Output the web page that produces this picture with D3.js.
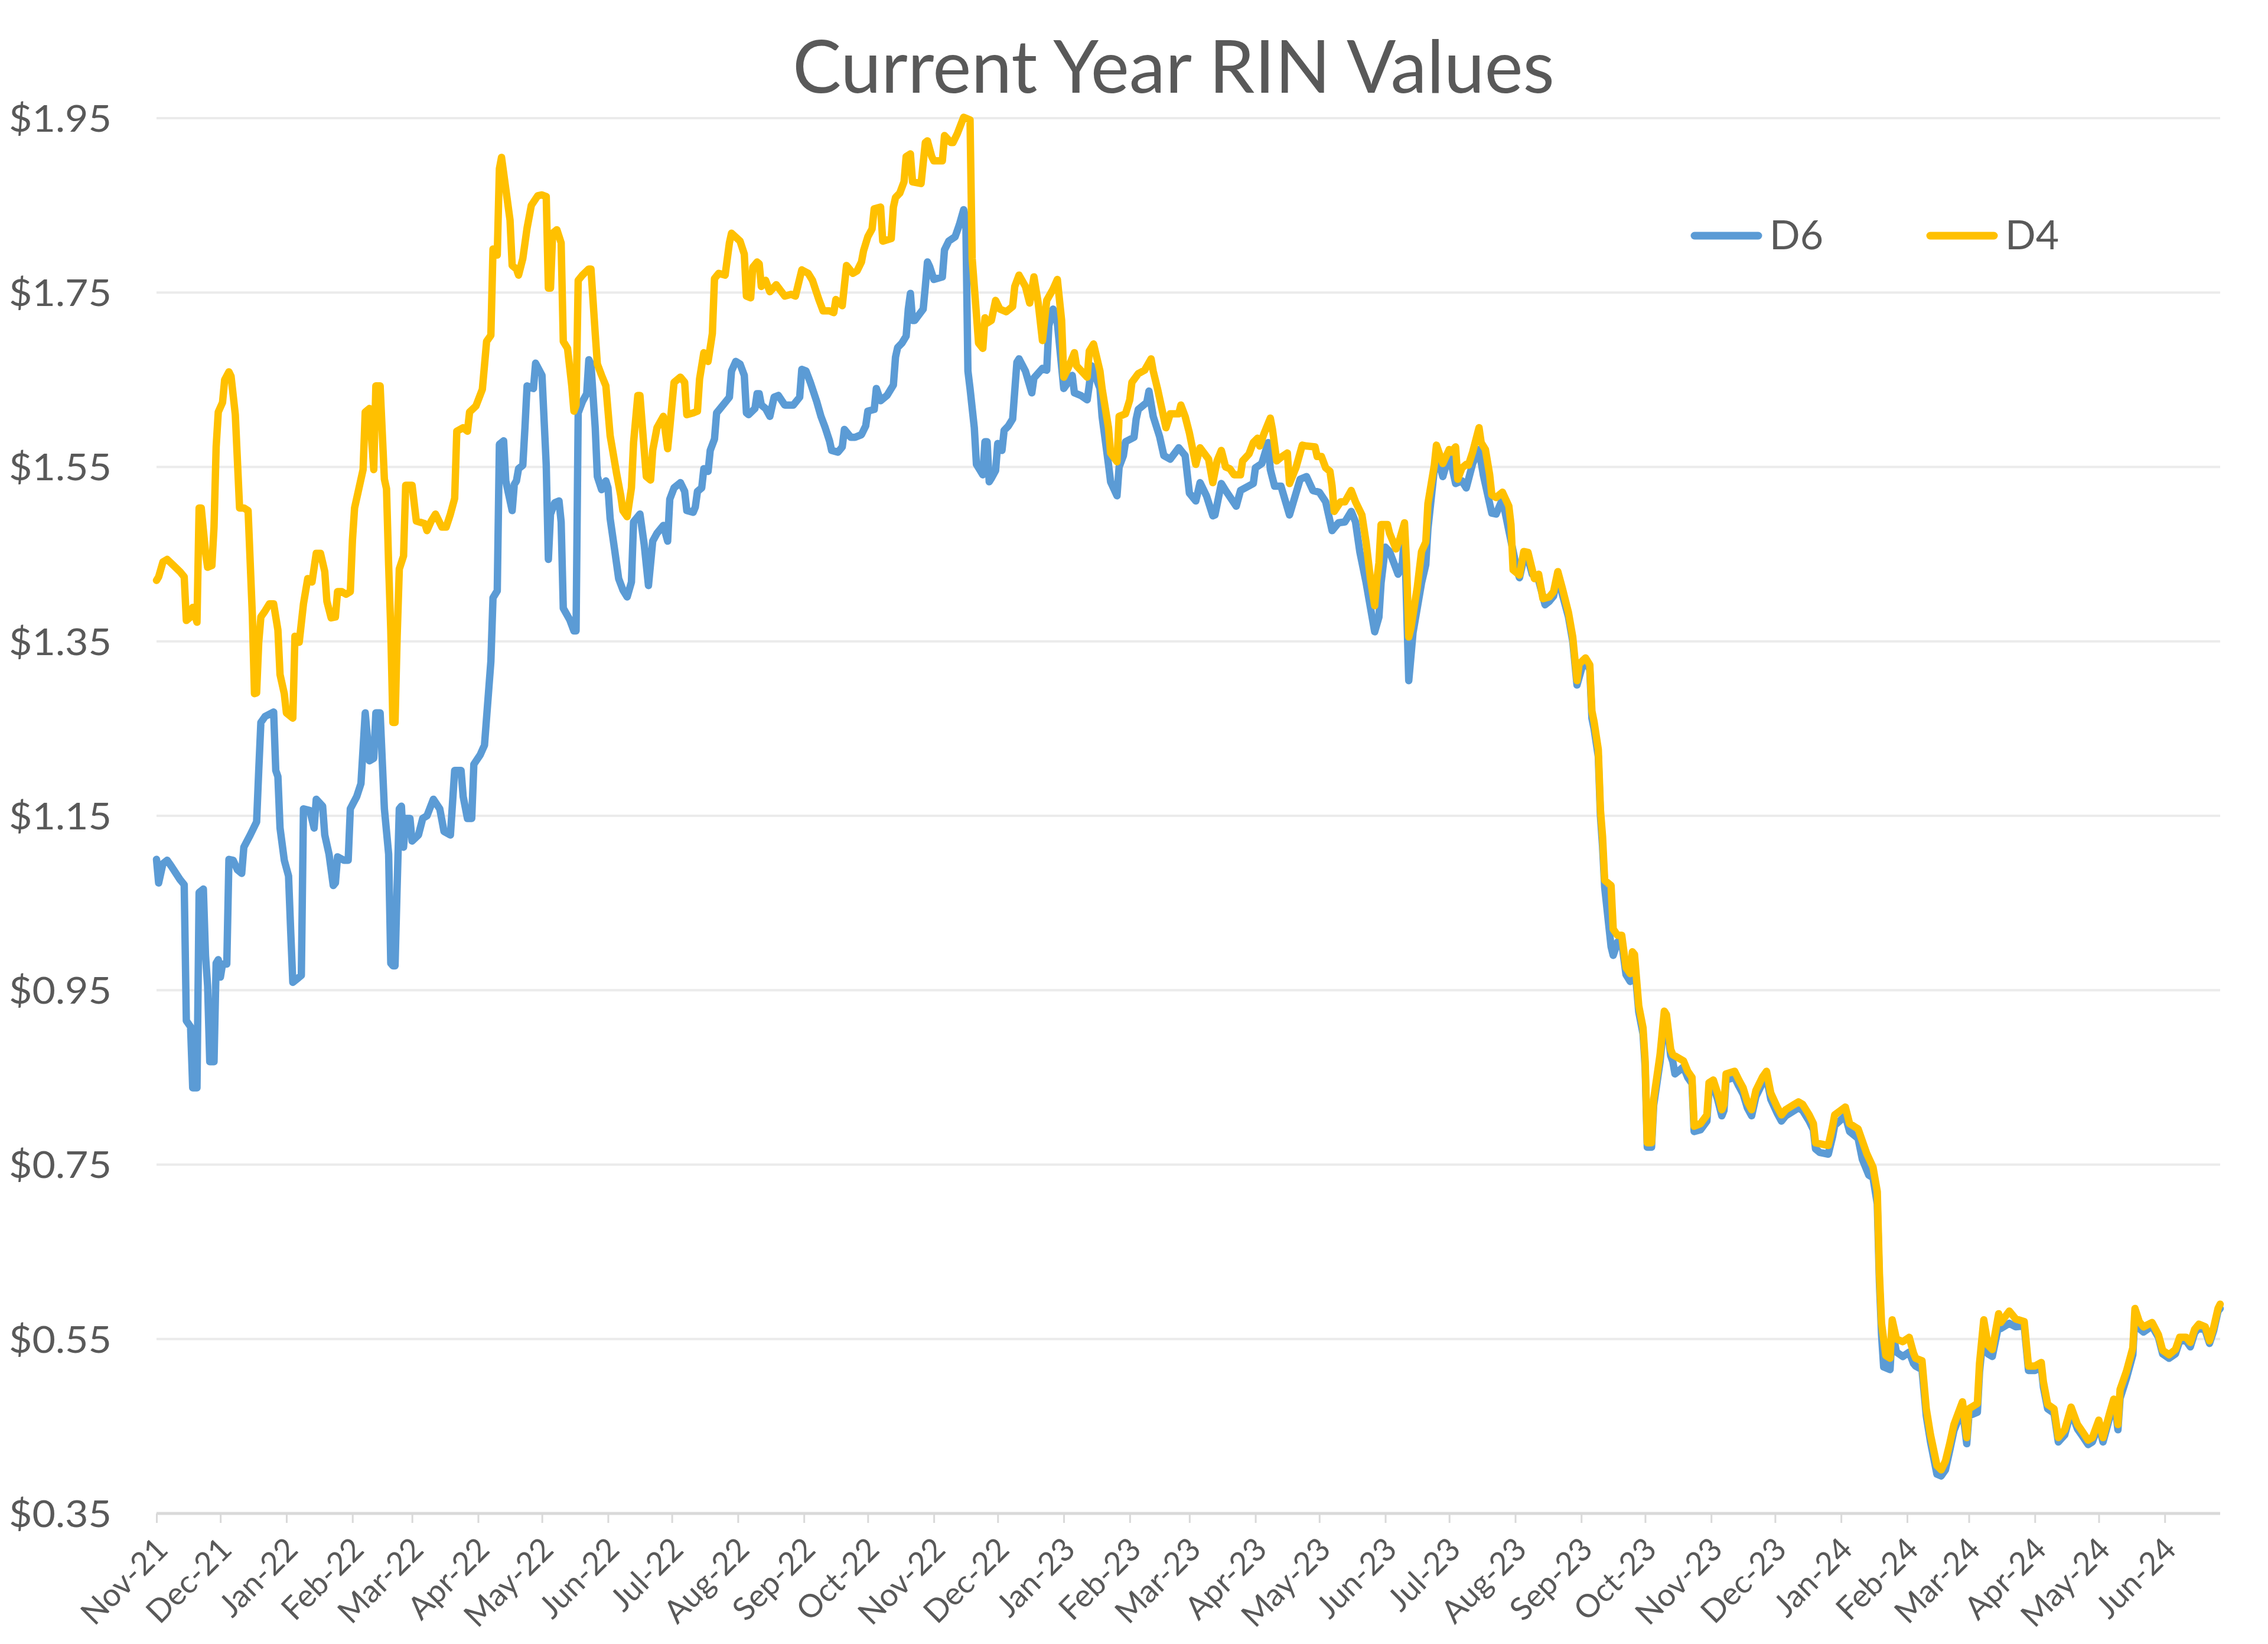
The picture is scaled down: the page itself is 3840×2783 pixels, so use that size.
<!DOCTYPE html>
<html><head><meta charset="utf-8">
<script src="https://cdn.jsdelivr.net/npm/d3@7"></script>
<style>html,body{margin:0;padding:0;background:#fff;} svg{display:block;}</style>
</head><body>
<svg id="chart" width="3840" height="2783"></svg>
<script>
// ---------------- DATA ----------------
const chartTitle = "Current Year RIN Values";
const startDate = "2021-11-01";           // day offsets below count from this date
const seriesNames = ["D6", "D4"];
const monthLabels = ["Nov-21","Dec-21","Jan-22","Feb-22","Mar-22","Apr-22","May-22","Jun-22","Jul-22","Aug-22","Sep-22","Oct-22","Nov-22","Dec-22","Jan-23","Feb-23","Mar-23","Apr-23","May-23","Jun-23","Jul-23","Aug-23","Sep-23","Oct-23","Nov-23","Dec-23","Jan-24","Feb-24","Mar-24","Apr-24","May-24","Jun-24"];
const yTicks = [0.35,0.55,0.75,0.95,1.15,1.35,1.55,1.75,1.95];
const lastDay = 969;

const d6Days = [
0,1,3,5,7,11,13,14,16,17, 19,20,22,23,24,25,27,28,29,30, 31,33,34,36,38,40,41,44,47,48, 49,51,55,56,57,58,60,62,63,64, 66,68,69,72,74,75,78,79,81,83, 84,85,88,90,91,94,96,98,100,102, 103,105,107,109,110,111,112,113,114,115, 116,117,119,120,123,125,127,130,133,135, 138,140,143,144,146,148,149,152,154,157, 158,160,161,163,
164,167,168,169,170,172,173,174,177,178, 181,183,184,185,187,189,190,191,194,196, 197,198,200,202,203,204,206,207,209,211, 212,213,215,217,219,221,223,224,227,229, 231,233,235,238,240,241,243,246,248,249, 252,253,254,256,257,259,260,262,263,266, 269,270,272,274,276,277,278,281,282,283, 284,286,288,290,292,295,299,302,303,305, 307,310,312,314,316,317,320,322,323,326, 328,
331,333,334,337,338,340,343,346,347,348, 350,352,353,354,355,356,360,361,362,363, 365,369,370,372,375,377,379,380,381,382, 384,385,388,389,390,391,392,394,395,397, 398,400,402,404,405,408,411,412,416,418, 419,421,423,426,428,430,431,434,437,438, 439,443,444,447,448,451,452,454,455,459, 460,461,465,466,468,471,473,476,480,483, 485,488,490,493,496,
497,500,502,507,509,515,516,519,522,523, 525,528,532,537,540,543,546,549,552,555, 558,561,563,565,568,572,574,575,577,579, 583,585,586,588,590,594,596,597,600,601, 604,607,610,613,615,618,621,623,627,629, 632,635,639,640,642,644,646,649,652,654, 656,658,660,663,665,667,670,671,673,674,
675,677,678,679,680,683,684,686,688,690, 692,693,694,696,698,699,700,702,703,706, 708,709,711,712,713,717,719,721,722,725, 728,729,731,733,735,736,737,741,743,745, 747,749,751,754,756,758,761,763,765,769, 771,773,776,778,779,781,785,787,788,793, 795,799,801,804,806,808,809,810,811,814, 815,817,
820,823,825,826,829,831,833,836,838,840, 842,844,848,850,851,855,856,858,860,862, 865,866,870,873,877,879,882,885,886,888, 891,893,896,899,902,904,907,909,912,914, 917,919,920,921,922,925,928,929,931,933, 937,940,942,945,948,950,953,955,957,959, 962,964,966,968,969];
const d6Values = [
1.100,1.073,1.095,1.099,1.092,1.077,1.071,0.915,0.908,0.838, 0.838,1.062,1.066,0.990,0.955,0.868,0.868,0.981,0.985,0.965, 0.980,0.980,1.100,1.099,1.088,1.084,1.114,1.128,1.143,1.202, 1.257,1.264,1.269,1.202,1.195,1.136,1.099,1.081,1.018,0.959, 0.963,0.967,1.158,1.156,1.136,1.169,1.161,1.128,1.106,1.070, 1.073,1.103,1.099,1.099,1.158,1.172,1.187,1.268,1.213,1.216, 1.268,1.268,1.158,1.106,0.981,0.978,0.978,1.070,1.158,1.161, 1.114,1.147,1.147,1.121,1.128,1.147,1.150,1.169,1.158,1.132, 1.128,1.202,1.202,1.172,1.147,1.147,1.209,1.220,1.231,1.327, 1.400,1.408,1.576,1.580,
1.534,1.500,1.530,1.534,1.548,1.552,1.595,1.643,1.640,1.669, 1.655,1.552,1.444,1.496,1.509,1.511,1.487,1.388,1.375,1.362, 1.362,1.612,1.625,1.634,1.673,1.668,1.595,1.539,1.524,1.534, 1.526,1.491,1.457,1.422,1.409,1.401,1.418,1.487,1.496,1.461, 1.414,1.465,1.474,1.483,1.465,1.513,1.526,1.532,1.522,1.500, 1.498,1.504,1.522,1.526,1.548,1.545,1.569,1.582,1.612,1.621, 1.630,1.660,1.671,1.668,1.655,1.612,1.610,1.617,1.634,1.634, 1.621,1.617,1.608,1.630,1.632,1.621,1.621,1.630,1.662,1.660, 1.647,1.625,1.608,1.595,1.580,1.569,1.567,1.573,1.593,1.584, 1.584,
1.587,1.597,1.614,1.616,1.640,1.626,1.632,1.644,1.676,1.687, 1.692,1.700,1.731,1.749,1.718,1.718,1.731,1.757,1.785,1.780, 1.765,1.768,1.799,1.809,1.814,1.828,1.845,1.835,1.660,1.640, 1.595,1.553,1.541,1.579,1.579,1.533,1.537,1.546,1.577,1.569, 1.592,1.597,1.605,1.670,1.674,1.660,1.635,1.652,1.663,1.661, 1.712,1.731,1.715,1.640,1.647,1.655,1.635,1.632,1.627,1.644, 1.666,1.640,1.608,1.553,1.533,1.517,1.550,1.563,1.579,1.584, 1.605,1.616,1.624,1.637,1.608,1.585,1.563,1.559,1.572,1.563, 1.520,1.511,1.532,1.517,1.494,
1.495,1.531,1.523,1.505,1.523,1.531,1.549,1.554,1.578,1.547, 1.528,1.528,1.495,1.536,1.539,1.523,1.521,1.510,1.477,1.486, 1.487,1.499,1.487,1.453,1.417,1.361,1.378,1.417,1.458,1.453, 1.427,1.440,1.475,1.305,1.360,1.417,1.438,1.479,1.547,1.565, 1.539,1.565,1.531,1.534,1.526,1.554,1.570,1.541,1.497,1.496, 1.513,1.477,1.430,1.423,1.445,1.445,1.427,1.420,1.392,1.396, 1.402,1.425,1.405,1.378,1.350,1.300,1.326,1.326,1.318,1.262,
1.250,1.218,1.150,1.115,1.068,1.000,0.990,1.005,1.005,0.968, 0.960,0.985,0.982,0.925,0.900,0.862,0.770,0.770,0.818,0.868, 0.918,0.915,0.875,0.868,0.854,0.862,0.850,0.843,0.788,0.790, 0.800,0.837,0.840,0.825,0.806,0.812,0.847,0.850,0.840,0.831, 0.815,0.806,0.828,0.843,0.850,0.825,0.809,0.800,0.806,0.812, 0.815,0.812,0.800,0.790,0.768,0.764,0.762,0.782,0.795,0.806, 0.788,0.780,0.756,0.738,0.735,0.705,0.615,0.555,0.518,0.515, 0.560,0.535,
0.530,0.535,0.522,0.519,0.515,0.462,0.432,0.395,0.393,0.400, 0.422,0.445,0.470,0.430,0.462,0.466,0.512,0.562,0.533,0.530, 0.566,0.562,0.568,0.564,0.565,0.514,0.514,0.518,0.495,0.470, 0.465,0.432,0.440,0.467,0.447,0.440,0.429,0.432,0.452,0.432, 0.459,0.472,0.466,0.446,0.482,0.505,0.532,0.578,0.562,0.558, 0.565,0.552,0.533,0.528,0.533,0.548,0.548,0.541,0.557,0.563, 0.560,0.545,0.560,0.582,0.585];

const d4Days = [
0,1,3,5,8,11,13,14,16,17, 19,20,21,23,24,26,27,28,29,31, 32,34,35,37,39,41,43,45,46,47, 48,49,51,53,55,57,58,60,61,64, 65,67,69,71,73,75,77,79,80,82, 84,85,87,89,91,92,93,95,97,98, 100,102,103,105,107,108,109,110,111,112, 113,114,116,117,120,122,126,127,129,131, 134,136,138,140,141,144,146,147,150,153, 155,157,158,160,161,
162,166,167,169,170,172,174,176,179,181, 183,184,185,186,188,190,191,193,195,196, 197,198,200,203,204,206,207,209,211,213, 216,218,219,221,223,224,226,227,229,230, 232,233,235,238,240,241,243,246,248,249, 252,254,255,257,259,261,262,264,267,269, 270,274,276,277,279,280,282,283,284,286, 288,291,295,298,300,303,306,308,311,313, 316,318,319,322,324,327,
329,331,332,334,336,337,340,341,345,346, 347,349,351,352,354,355,359,361,362,364, 365,369,370,373,374,376,379,382,383,385, 386,388,389,390,392,394,396,399,402,403, 405,408,410,412,414,416,418,421,423,425, 426,428,431,432,437,438,440,443,444,447, 448,451,452,455,457,458,461,464,467,468, 470,474,476,480,481,483,485,488,490,494, 496,
498,500,502,504,506,509,510,513,515,517, 518,520,523,524,526,528,531,532,535,538, 540,544,545,547,549,551,552,553,556,558, 561,563,566,568,570,572,573,574,575,578, 579,582,584,586,587,588,589,592,594,596, 597,600,601,604,607,608,610,611,613,615, 616,618,621,622,624,626,627,629,632,635, 636,637,640,642,644,646,647,649,651,654, 656,658,660,663,665,667,668,671,673,674,
675,677,678,679,680,683,684,686,688,690, 692,693,694,696,698,699,700,702,703,706, 708,709,711,712,717,719,721,722,725,728, 729,731,733,735,736,737,741,743,745,747, 749,751,754,756,758,761,763,765,769,771, 773,776,778,779,785,787,788,793,795,799, 803,806,808,809,810,812,814,815,817,
820,823,825,826,829,831,833,836,838,840, 842,844,848,850,851,855,856,858,860,862, 865,866,870,873,877,879,882,885,886,888, 891,893,896,899,902,904,907,909,912,914, 917,919,920,921,922,925,928,929,931,933, 937,940,942,945,948,950,953,955,957,959, 962,964,966,968,969];
const d4Values = [
1.420,1.424,1.441,1.444,1.437,1.430,1.424,1.374,1.378,1.389, 1.372,1.503,1.503,1.452,1.435,1.437,1.481,1.573,1.613,1.624, 1.650,1.659,1.654,1.610,1.503,1.503,1.500,1.380,1.290,1.291, 1.349,1.378,1.385,1.393,1.393,1.363,1.312,1.290,1.268,1.262, 1.356,1.349,1.393,1.422,1.418,1.451,1.451,1.430,1.396,1.377, 1.378,1.407,1.407,1.404,1.407,1.466,1.503,1.525,1.547,1.613, 1.617,1.547,1.643,1.643,1.536,1.525,1.437,1.363,1.257,1.257, 1.356,1.433,1.448,1.529,1.529,1.488,1.485,1.477,1.488,1.496, 1.481,1.481,1.496,1.514,1.591,1.595,1.591,1.613,1.620,1.639, 1.694,1.701,1.800,1.793,1.892,
1.905,1.833,1.781,1.777,1.770,1.789,1.824,1.850,1.861,1.862, 1.860,1.755,1.755,1.818,1.822,1.807,1.694,1.686,1.643,1.614, 1.621,1.764,1.770,1.777,1.777,1.703,1.668,1.655,1.643,1.586, 1.543,1.517,1.500,1.493,1.526,1.578,1.632,1.632,1.569,1.539, 1.535,1.569,1.595,1.608,1.571,1.595,1.647,1.653,1.647,1.610, 1.612,1.614,1.651,1.681,1.671,1.703,1.766,1.772,1.770,1.807, 1.818,1.809,1.794,1.746,1.744,1.779,1.785,1.783,1.757,1.764, 1.751,1.759,1.746,1.748,1.746,1.776,1.772,1.764,1.742,1.729, 1.729,1.727,1.742,1.735,1.781,1.772,
1.775,1.785,1.798,1.814,1.823,1.846,1.848,1.809,1.812,1.848, 1.859,1.864,1.877,1.906,1.909,1.877,1.875,1.922,1.924,1.906, 1.901,1.901,1.930,1.922,1.922,1.932,1.951,1.948,1.789,1.725, 1.692,1.686,1.721,1.715,1.718,1.741,1.731,1.728,1.734,1.757, 1.770,1.757,1.738,1.768,1.738,1.695,1.741,1.754,1.765,1.718, 1.653,1.663,1.681,1.666,1.653,1.683,1.691,1.660,1.640,1.595, 1.566,1.556,1.608,1.611,1.627,1.647,1.657,1.661,1.674,1.660, 1.640,1.595,1.611,1.611,1.621,1.608,1.589,1.553,1.572,1.559, 1.532,
1.557,1.569,1.550,1.548,1.541,1.541,1.557,1.565,1.578,1.583, 1.574,1.588,1.606,1.593,1.557,1.561,1.566,1.531,1.549,1.575, 1.574,1.573,1.562,1.562,1.549,1.545,1.528,1.499,1.510,1.510, 1.523,1.510,1.495,1.463,1.422,1.391,1.420,1.440,1.484,1.484, 1.474,1.456,1.469,1.486,1.438,1.355,1.365,1.412,1.453,1.464, 1.508,1.552,1.575,1.554,1.570,1.567,1.573,1.536,1.549,1.553, 1.552,1.567,1.595,1.578,1.570,1.541,1.518,1.515,1.521,1.505, 1.484,1.432,1.426,1.453,1.452,1.432,1.422,1.427,1.399,1.401, 1.407,1.430,1.412,1.383,1.355,1.305,1.324,1.331,1.323,1.270,
1.258,1.226,1.157,1.126,1.076,1.070,1.020,1.013,1.013,0.976, 0.969,0.994,0.991,0.932,0.907,0.869,0.775,0.775,0.825,0.876, 0.926,0.922,0.882,0.876,0.869,0.857,0.850,0.794,0.797,0.807, 0.844,0.847,0.832,0.813,0.819,0.854,0.857,0.847,0.838,0.822, 0.813,0.835,0.850,0.857,0.832,0.816,0.807,0.813,0.819,0.822, 0.819,0.807,0.797,0.775,0.772,0.794,0.807,0.816,0.797,0.791, 0.763,0.747,0.719,0.625,0.568,0.531,0.528,0.572,0.550,
0.547,0.552,0.534,0.528,0.525,0.470,0.440,0.405,0.400,0.410, 0.430,0.452,0.478,0.437,0.470,0.476,0.522,0.572,0.543,0.538, 0.579,0.569,0.582,0.573,0.570,0.519,0.519,0.523,0.501,0.475, 0.470,0.437,0.446,0.472,0.452,0.445,0.434,0.437,0.457,0.437, 0.464,0.481,0.478,0.452,0.492,0.513,0.540,0.585,0.570,0.564, 0.569,0.555,0.537,0.532,0.538,0.552,0.552,0.546,0.561,0.567, 0.564,0.548,0.564,0.585,0.590];

const seriesColors = ["#5B9BD5", "#FFC000"];

// ---------------- CHART ----------------
const FONT = "Lato, 'Open Sans', sans-serif";
const TEXT = "#595959";
const svg = d3.select("#chart");
svg.append("rect").attr("width", 3840).attr("height", 2783).attr("fill", "#fff");

const start = d3.utcParse("%Y-%m-%d")(startDate);
const dayToDate = d => d3.utcDay.offset(start, d);
const x = d3.scaleUtc().domain([start, dayToDate(lastDay)]).range([265, 3759]);
const y = d3.scaleLinear().domain([0.35, 1.95]).range([2562, 200]);

// gridlines
svg.append("g").selectAll("line").data(yTicks.filter(v => v > 0.35)).join("line")
  .attr("x1", x.range()[0]).attr("x2", x.range()[1])
  .attr("y1", d => y(d)).attr("y2", d => y(d))
  .attr("stroke", "#EBEBEB").attr("stroke-width", 4);

// y axis labels
const yAxis = d3.axisLeft(y).tickValues(yTicks).tickSize(0).tickPadding(0)
  .tickFormat(d => "$" + d.toFixed(2));
const gy = svg.append("g").attr("transform", "translate(189,0)").call(yAxis);
gy.select(".domain").remove();
gy.selectAll("text").attr("font-family", FONT).attr("font-size", 62).attr("fill", TEXT)
  .attr("dy", "0.36em").attr("textLength", 174).attr("lengthAdjust", "spacingAndGlyphs");

// x axis
const parseMonth = d3.utcParse("%b-%y");
const tickDates = monthLabels.map(parseMonth);
const xAxis = d3.axisBottom(x).tickValues(tickDates).tickSize(16).tickPadding(0)
  .tickFormat((d, i) => monthLabels[i]);
const gx = svg.append("g").attr("transform", "translate(0,2562)").call(xAxis);
gx.select(".domain").attr("stroke", "#D9D9D9").attr("stroke-width", 5)
  .attr("d", `M${x.range()[0]},0H${x.range()[1]}`);
gx.selectAll(".tick line").attr("stroke", "#D9D9D9").attr("stroke-width", 3);
gx.selectAll(".tick text")
  .attr("font-family", FONT).attr("font-size", 54).attr("fill", TEXT)
  .attr("text-anchor", "end").attr("dy", null).attr("y", null)
  .attr("transform", "translate(22,64) rotate(-45)");

// lines
const line = d3.line().x(d => x(dayToDate(d.day))).y(d => y(d.v)).curve(d3.curveLinear);
const d6 = d6Days.map((d, i) => ({day: d, v: d6Values[i]}));
const d4 = d4Days.map((d, i) => ({day: d, v: d4Values[i]}));
[d6, d4].forEach((data, i) => {
  svg.append("path").datum(data).attr("d", line)
    .attr("fill", "none").attr("stroke", seriesColors[i]).attr("stroke-width", 12.5)
    .attr("stroke-linejoin", "round").attr("stroke-linecap", "round");
});

// title
svg.append("text").attr("x", 1987).attr("y", 157).attr("text-anchor", "middle")
  .attr("font-family", FONT).attr("font-size", 124).attr("fill", TEXT)
  .attr("textLength", 1290).attr("lengthAdjust", "spacingAndGlyphs")
  .text(chartTitle);

// legend
const legendX = [2869, 3268];
const lg = svg.append("g");
seriesNames.forEach((name, i) => {
  lg.append("line").attr("x1", legendX[i]).attr("x2", legendX[i] + 108)
    .attr("y1", 399).attr("y2", 399).attr("stroke", seriesColors[i])
    .attr("stroke-width", 13).attr("stroke-linecap", "round");
  lg.append("text").attr("x", legendX[i] + 127).attr("y", 422)
    .attr("font-family", FONT).attr("font-size", 68).attr("fill", TEXT)
    .text(name);
});
</script>
</body></html>
